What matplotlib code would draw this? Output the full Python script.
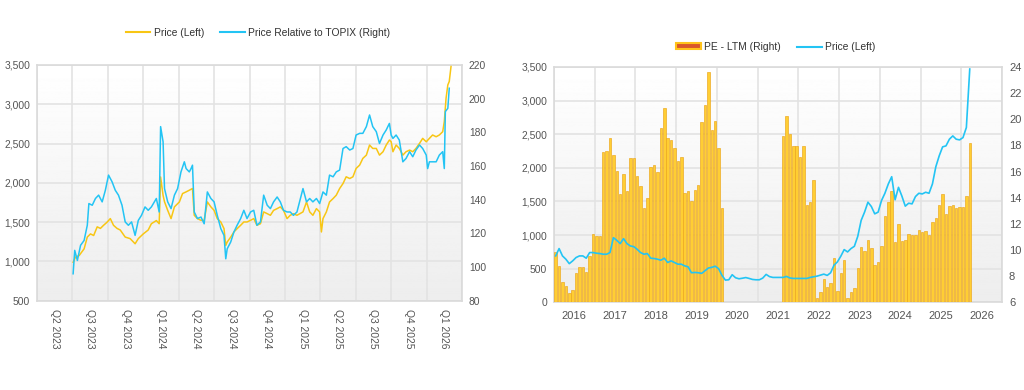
import numpy as np
import matplotlib
matplotlib.use('Agg')
import matplotlib.pyplot as plt
from matplotlib.patches import Patch
from matplotlib.lines import Line2D
from matplotlib.ticker import FuncFormatter

plt.rcParams['font.family'] = ['Liberation Sans', 'DejaVu Sans']

# ---- left chart data (x = quarters since start of Q2 2023) ----
quarter_labels = ['Q2 2023', 'Q3 2023', 'Q4 2023', 'Q1 2024', 'Q2 2024', 'Q3 2024',
                  'Q4 2024', 'Q1 2025', 'Q2 2025', 'Q3 2025', 'Q4 2025', 'Q1 2026']

price_t = [1.02, 1.09, 1.19, 1.33, 1.42, 1.51, 1.60, 1.70, 1.79, 1.88, 1.98, 2.07, 2.16,
           2.26, 2.35, 2.49, 2.63, 2.77, 2.86, 3.00, 3.14, 3.23, 3.37, 3.45, 3.49, 3.56,
           3.60, 3.69, 3.785, 3.88, 4.02, 4.11, 4.21, 4.30, 4.39, 4.44, 4.53, 4.63, 4.72,
           4.81, 4.91, 5.00, 5.09, 5.19, 5.28, 5.33, 5.37, 5.47, 5.56, 5.65, 5.75, 5.84,
           5.93, 6.03, 6.12, 6.21, 6.31, 6.40, 6.50, 6.59, 6.68, 6.78, 6.87, 6.96, 7.06,
           7.15, 7.24, 7.34, 7.51, 7.61, 7.70, 7.79, 7.89, 7.98, 8.03, 8.075, 8.17, 8.26,
           8.36, 8.45, 8.545, 8.64, 8.73, 8.83, 8.92, 9.01, 9.11, 9.20, 9.30, 9.39, 9.48,
           9.58, 9.67, 9.77, 9.86, 9.95, 10.00, 10.05, 10.14, 10.23, 10.33, 10.42, 10.52,
           10.61, 10.70, 10.80, 10.89, 10.99, 11.08, 11.17, 11.27, 11.36, 11.455, 11.50,
           11.55, 11.60, 11.64, 11.69]
price = [990, 1055, 1075, 1160, 1310, 1350, 1330, 1440, 1420, 1460, 1500, 1545, 1460,
         1420, 1400, 1310, 1290, 1225, 1290, 1350, 1400, 1480, 1520, 1480, 2075, 1840,
         1760, 1650, 1545, 1694, 1757, 1864, 1885, 1906, 1928, 1587, 1545, 1523, 1523,
         1757, 1694, 1650, 1545, 1502, 1417, 1204, 1247, 1310, 1375, 1417, 1460, 1502,
         1502, 1523, 1545, 1460, 1480, 1630, 1608, 1587, 1650, 1672, 1694, 1650, 1545,
         1587, 1608, 1587, 1630, 1757, 1630, 1587, 1672, 1630, 1375, 1545, 1630, 1757,
         1800, 1843, 1928, 1991, 2077, 2055, 2077, 2183, 2226, 2311, 2353, 2481, 2438,
         2438, 2353, 2396, 2481, 2545, 2523, 2396, 2481, 2438, 2353, 2396, 2417,
         2396, 2438, 2502, 2566, 2523, 2566, 2609, 2587, 2609, 2651, 2779,
         3077, 3247, 3290, 3481]

rel_t = [1.02, 1.065, 1.14, 1.23, 1.33, 1.42, 1.465, 1.56, 1.65, 1.74, 1.84, 1.93, 2.02,
         2.12, 2.21, 2.30, 2.40, 2.49, 2.58, 2.67, 2.77, 2.86, 2.95, 3.05, 3.14, 3.23,
         3.37, 3.45, 3.49, 3.56, 3.60, 3.69, 3.785, 3.88, 3.97, 4.065, 4.16, 4.21, 4.25,
         4.30, 4.35, 4.39, 4.44, 4.53, 4.63, 4.72, 4.81, 4.91, 5.00, 5.09, 5.19, 5.28,
         5.33, 5.37, 5.47, 5.56, 5.65, 5.75, 5.84, 5.93, 6.03, 6.12, 6.21, 6.31, 6.40,
         6.50, 6.59, 6.68, 6.78, 6.87, 6.96, 7.06, 7.15, 7.24, 7.34, 7.51, 7.61, 7.70,
         7.79, 7.89, 7.98, 8.075, 8.17, 8.26, 8.36, 8.45, 8.545, 8.64, 8.73, 8.83, 8.92,
         9.01, 9.11, 9.20, 9.30, 9.39, 9.48, 9.58, 9.67, 9.77, 9.86, 9.95, 10.00, 10.05,
         10.14, 10.23, 10.33, 10.42, 10.52, 10.61, 10.70, 10.80, 10.89, 10.99, 11.03,
         11.08, 11.17, 11.27, 11.36, 11.455, 11.50, 11.53, 11.60, 11.64]
rel = [96.0, 109.9, 103.9, 112.9, 115.8, 124.8, 137.7, 136.7, 140.7, 142.7, 138.7, 145.6,
       154.6, 150.6, 145.6, 142.7, 136.7, 126.8, 124.8, 126.8, 118.8, 127.7, 130.7, 135.7,
       133.7, 135.7, 140.7, 132.7, 183.4, 174.4, 146.6, 138.7, 134.7, 142.7, 146.6, 156.5,
       162.5, 158.5, 157.6, 156.5, 158.5, 160.5, 132.7, 128.8, 129.7, 125.7, 144.6, 140.7,
       138.7, 130.7, 122.8, 118.8, 104.9, 110.8, 114.9, 120.8, 124.8, 128.8, 133.7, 128.8,
       132.7, 133.7, 124.8, 126.8, 142.7, 136.7, 134.7, 138.7, 141.6, 138.7, 133.7, 132.7,
       132.7, 130.7, 132.7, 146.6, 138.7, 140.7, 138.7, 140.7, 137.7, 144.6, 142.7, 154.6,
       153.6, 156.5, 157.6, 170.4, 171.5, 169.5, 170.4, 178.4, 179.4, 179.4, 183.4, 190.3,
       183.4, 180.4, 173.4, 178.4, 181.4, 185.3, 178.4, 176.4, 178.4, 175.4, 162.5, 164.5,
       168.5, 165.5, 169.5, 172.5, 170.4, 166.5, 158.5, 162.5, 162.5, 162.5, 166.5, 168.5,
       158.5, 192.3, 194.3, 206.2]

# ---- right chart data (monthly, Jan 2016 .. Mar 2026) ----
years = list(range(2016, 2027))
nan = float('nan')
pe_ltm = [9.81, 8.79, 7.52, 7.27, 6.68, 6.94, 8.21, 8.72, 8.72, 8.28, 9.55, 11.20,
          11.07, 11.07, 17.48, 17.61, 18.55, 17.28, 16.06, 14.29, 15.81, 14.50, 17.03, 17.03,
          15.63, 14.92, 13.23, 13.99, 16.32, 16.52, 15.96, 19.36, 20.88, 18.55, 18.43, 17.79,
          16.83, 17.08, 14.37, 14.50, 13.74, 14.62, 14.95, 19.78, 21.12, 23.59, 19.17, 19.89,
          17.83, 13.25, nan, nan, nan, nan, nan, nan, nan, nan, nan, nan,
          nan, nan, nan, nan, nan, nan, nan, 18.75, 20.28, 18.88, 17.92, 17.92,
          17.15, 17.92, 13.48, 13.68, 15.38, 6.30, 6.81, 7.75, 7.14, 7.50, 9.42, 6.89,
          8.21, 9.27, 6.35, 6.81, 7.12, 8.64, 10.23, 9.90, 10.79, 10.18, 8.89, 9.09,
          10.28, 12.57, 13.66, 14.50, 10.61, 11.96, 10.66, 10.74, 11.25, 11.12, 11.12, 11.50,
          11.37, 11.45, 11.12, 12.14, 12.46, 13.41, 14.29, 12.72, 13.33, 13.48, 13.20, 13.28,
          13.28, 14.16, 18.22]
price_m = [690, 799, 690, 641, 575, 616, 666, 690, 690, 656, 740, 740,
           730, 725, 715, 715, 740, 961, 922, 873, 947, 873, 838, 828,
           789, 740, 715, 725, 656, 651, 641, 626, 656, 592, 616, 592,
           567, 567, 542, 528, 440, 444, 440, 430, 470, 510, 520, 537,
           500, 400, 330, 335, 410, 365, 350, 358, 368, 355, 340, 335,
           335, 360, 415, 382, 370, 370, 370, 370, 385, 362, 355, 355,
           355, 355, 355, 370, 380, 389, 404, 419, 400, 439, 552, 601,
           685, 784, 749, 799, 833, 981, 1218, 1341, 1489, 1425, 1316, 1341,
           1514, 1622, 1760, 1868, 1525, 1710, 1580, 1430, 1474, 1464, 1573, 1622,
           1612, 1637, 1622, 1760, 2016, 2179, 2312, 2327, 2426, 2475, 2426, 2416,
           2450, 2600, 3470]

YELLOW = '#F8C614'
BLUE = '#23C4F4'
GRID = '#E3E3E3'
TXT = '#555555'
FS = 7.4

fig = plt.figure(figsize=(10.24, 3.9), dpi=100)
grad = np.linspace(1.0, 0.93, 256).reshape(-1, 1)


def style_base(ax):
    ax.imshow(grad, extent=[0, 1, 0, 1], transform=ax.transAxes, aspect='auto',
              cmap='gray', vmin=0, vmax=1, zorder=0)
    for s in ax.spines.values():
        s.set_color('#DADADA')
        s.set_linewidth(1.2)
    ax.grid(True, which='major', color=GRID, linewidth=1.2, zorder=1)
    ax.set_axisbelow(True)
    ax.tick_params(which='both', length=0, colors=TXT, labelsize=FS)


comma = FuncFormatter(lambda v, p: f'{int(v):,}')

# ================= left chart =================
ax = fig.add_axes([37 / 1024, 1 - 300.7 / 390, 425 / 1024, 235.7 / 390])
style_base(ax)
ax.set_xlim(0, 12)
ax.set_ylim(500, 3500)
ax.set_yticks(range(500, 3501, 500))
ax.yaxis.set_major_formatter(comma)
ax.set_xticks(range(13))
ax.set_xticklabels([])
ax.set_xticks(np.arange(12) + 0.5, minor=True)
ax.set_xticklabels(quarter_labels, minor=True, rotation=270, va='top', ha='center')
ax.tick_params(axis='x', which='minor', pad=6)
ax.tick_params(axis='y', pad=5)
ax.plot(price_t, price, color=YELLOW, lw=1.1, zorder=3)

ax2 = ax.twinx()
ax2.set_ylim(80, 220)
ax2.set_yticks(range(80, 221, 20))
ax2.tick_params(length=0, colors=TXT, labelsize=FS, pad=5)
for s in ax2.spines.values():
    s.set_visible(False)
ax2.plot(rel_t, rel, color=BLUE, lw=1.1, zorder=3)

fig.legend(handles=[Line2D([], [], color=YELLOW, lw=1.5),
                    Line2D([], [], color=BLUE, lw=1.5)],
           labels=['Price (Left)', 'Price Relative to TOPIX (Right)'],
           loc='center', bbox_to_anchor=(258 / 1024, 1 - 33 / 390), ncol=2,
           frameon=False, fontsize=FS, handlelength=2.4, columnspacing=1.6,
           handletextpad=0.3, labelcolor='#333333')

# ================= right chart =================
bx = fig.add_axes([554 / 1024, 1 - 302.3 / 390, 448 / 1024, 235.3 / 390])
style_base(bx)
bx.set_xlim(2016, 2027)
bx.set_ylim(0, 3500)
bx.set_yticks(range(0, 3501, 500))
bx.yaxis.set_major_formatter(comma)
bx.set_xticks(range(2016, 2028))
bx.set_xticklabels([])
bx.set_xticks(np.array(years) + 0.5, minor=True)
bx.set_xticklabels([str(y) for y in years], minor=True)
bx.tick_params(axis='x', which='minor', pad=6, labelsize=FS + 0.6)
bx.tick_params(axis='y', pad=5)

bar_x = [2016 + (i + 0.5) / 12 for i in range(len(pe_ltm))]
bb = bx.twinx()
bb.set_ylim(6, 24)
bb.set_yticks(range(6, 25, 2))
bb.tick_params(length=0, colors=TXT, labelsize=FS + 0.6, pad=5)
for s in bb.spines.values():
    s.set_visible(False)
bb.bar(bar_x, pe_ltm, width=0.74 / 12, bottom=0, color='#FFCE33',
       edgecolor='#EBA51A', linewidth=0.45, zorder=2)

bl = bx.twinx()
bl.set_ylim(0, 3500)
bl.set_yticks([])
for s in bl.spines.values():
    s.set_visible(False)
bl.plot(bar_x[:len(price_m)], price_m, color=BLUE, lw=1.2, zorder=3)

fig.legend(handles=[Patch(facecolor='#D9562A', edgecolor='#FFC21A', linewidth=1.5),
                    Line2D([], [], color=BLUE, lw=1.5)],
           labels=['PE - LTM (Right)', 'Price (Left)'],
           loc='center', bbox_to_anchor=(776 / 1024, 1 - 47 / 390), ncol=2,
           frameon=False, fontsize=FS, handlelength=2.4, handleheight=0.5,
           columnspacing=1.6, handletextpad=0.3, labelcolor='#333333')

fig.savefig('out.png', dpi=100, facecolor='white')
